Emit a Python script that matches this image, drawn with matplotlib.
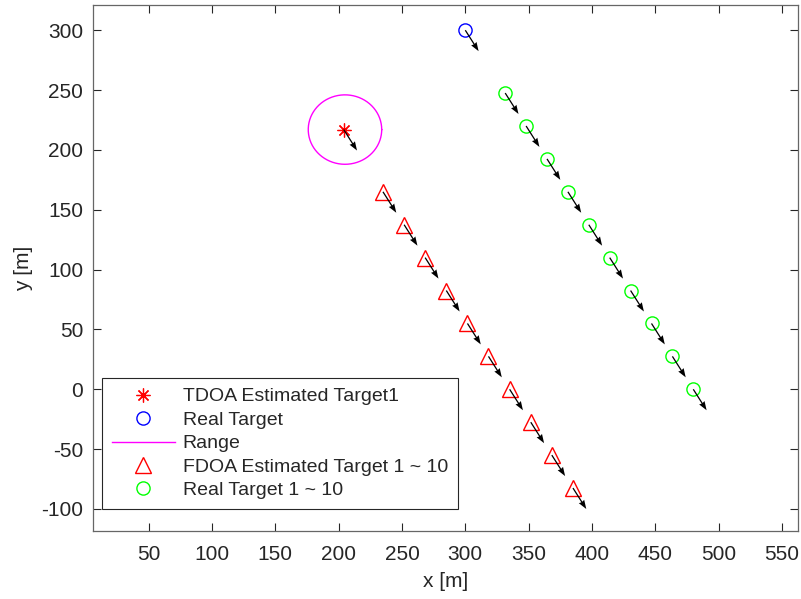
import numpy as np
import matplotlib.pyplot as plt

plt.rcParams['font.family'] = ['Liberation Sans', 'DejaVu Sans']
plt.rcParams['axes.unicode_minus'] = False

# TDOA estimate and its range circle
tdoa_est = (204.0, 217.0)
range_center = (205.0, 217.0)
range_radius = 29.0

# real target at start
real_target = (300.0, 300.0)

# FDOA estimates for targets 1..10
fdoa_x = [235.0, 251.7, 268.3, 285.0, 301.7, 318.3, 335.0, 351.7, 368.3, 385.0]
fdoa_y = [165.0, 137.5, 110.0, 82.5, 55.0, 27.5, 0.0, -27.5, -55.0, -82.5]

# real targets 1..10
real_x = [331.5, 348.0, 364.5, 381.0, 397.5, 414.0, 430.5, 447.0, 463.5, 480.0]
real_y = [247.5, 220.0, 192.5, 165.0, 137.5, 110.0, 82.5, 55.0, 27.5, 0.0]

# velocity vector drawn at every point
vel = (10.5, -17.5)

fig = plt.figure(figsize=(8.01, 5.99), dpi=100)
ax = fig.add_axes([0.116, 0.1135, 0.88, 0.878])

ax.plot(*tdoa_est, ls='none', marker=(8, 2, 0), ms=10, mew=0.9, color='#ff0000',
        label='TDOA Estimated Target1')
ax.plot(*real_target, ls='none', marker='o', ms=9.5, mfc='none', mew=1.0,
        color='#0000ff', label='Real Target')
th = np.linspace(0, 2 * np.pi, 300)
ax.plot(range_center[0] + range_radius * np.cos(th),
        range_center[1] + range_radius * np.sin(th),
        color='#ff00ff', lw=1.0, label='Range')
ax.plot(fdoa_x, fdoa_y, ls='none', marker='^', ms=11, mfc='none', mew=1.0,
        color='#ff0000', label='FDOA Estimated Target 1 ~ 10')
ax.plot(real_x, real_y, ls='none', marker='o', ms=9.5, mfc='none', mew=1.0,
        color='#00ff00', label='Real Target 1 ~ 10')

# arrows
qx = [tdoa_est[0], real_target[0]] + fdoa_x + real_x
qy = [tdoa_est[1], real_target[1]] + fdoa_y + real_y
ax.quiver(qx, qy, [vel[0]] * len(qx), [vel[1]] * len(qx),
          angles='xy', scale_units='xy', scale=1, color='black',
          width=0.0018, headwidth=5, headlength=7, headaxislength=6.5, zorder=3)

ax.set_xlim(6, 562.5)
ax.set_ylim(-118.4, 321)
ax.set_xticks(np.arange(50, 551, 50))
ax.set_yticks(np.arange(-100, 301, 50))
ax.set_xlabel('x [m]', fontsize=15, color='#262626', labelpad=6)
ax.set_ylabel('y [m]', fontsize=15, color='#262626', labelpad=6)

ax.tick_params(direction='in', length=6, width=0.8, top=True, right=True,
               labelsize=15, colors='#262626')
ax.tick_params(axis='x', pad=10)
ax.tick_params(axis='y', pad=7)
for sp in ax.spines.values():
    sp.set_color('#666666')
    sp.set_linewidth(0.9)

leg = ax.legend(loc='lower left', bbox_to_anchor=(0.0128, 0.042), fontsize=14,
                frameon=True, fancybox=False, edgecolor='#262626', framealpha=1,
                handlelength=3.25, handletextpad=0.4, labelspacing=0.3,
                borderpad=0.5, borderaxespad=0)
leg.get_frame().set_linewidth(0.8)
for t in leg.get_texts():
    t.set_color('#262626')

plt.savefig('out.png', dpi=100)
